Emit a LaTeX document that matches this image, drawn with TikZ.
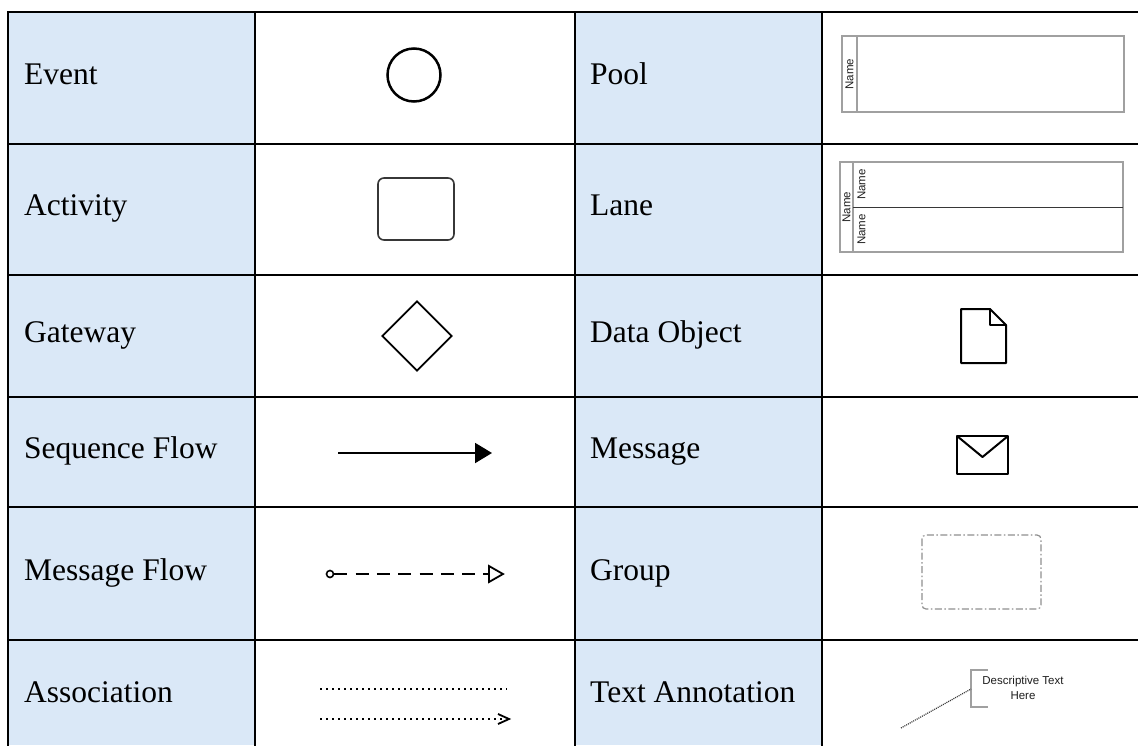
\documentclass[tikz,border=0pt]{standalone}
\usepackage{fontspec}
\setmainfont{Liberation Serif}
\newfontfamily\arialfont{Liberation Sans}
\usetikzlibrary{shapes.geometric,arrows.meta}
\definecolor{cellblue}{RGB}{218,232,247}
\definecolor{boxgray}{RGB}{160,160,160}
\definecolor{darkline}{RGB}{55,55,55}
\definecolor{txtgray}{RGB}{30,30,30}
\begin{document}
\begin{tikzpicture}[x=1pt,y=-1pt,
  gridline/.style={line width=2.2pt,line cap=rect},
  lbl/.style={anchor=base west,inner sep=0pt,font=\fontsize{31.5}{36}\selectfont},
  smalltxt/.style={font=\arialfont\fontsize{11.5}{15}\selectfont,inner sep=0pt,text=txtgray},
  bpmnline/.style={line width=2pt,line join=round},
  grayframe/.style={draw=boxgray,line width=1.3pt},
  dotline/.style={line width=1.8pt,dash pattern=on 1.8pt off 4.2pt}]
\useasboundingbox (0,0) rectangle (1138,745);
\fill[white] (0,0) rectangle (1138,745);
% shaded label columns
\fill[cellblue] (8,12) rectangle (255,745);
\fill[cellblue] (575,12) rectangle (822,745);
% grid
\foreach \yy in {12,144,275,397,507,640} \draw[gridline] (8,\yy) -- (1140,\yy);
\foreach \xx in {8,255,575,822} \draw[gridline] (\xx,12) -- (\xx,747);
% labels, left column
\node[lbl] (lEvent) at (24,84) {Event};
\node[lbl] (lActivity) at (24,215.5) {Activity};
\node[lbl] (lGateway) at (24,342.5) {Gateway};
\node[lbl] (lSeq) at (24,458.5) {Sequence Flow};
\node[lbl] (lMsgFlow) at (24,580) {Message Flow};
\node[lbl] (lAssoc) at (24,702) {Association};
% labels, right column
\node[lbl] (lPool) at (590,84) {Pool};
\node[lbl] (lLane) at (590,215.5) {Lane};
\node[lbl] (lData) at (590,342.5) {Data Object};
\node[lbl] (lMsg) at (590,458.5) {Message};
\node[lbl] (lGroup) at (590,580) {Group};
\node[lbl] (lAnnot) at (590,702) {Text Annotation};
% Event
\node[draw,circle,line width=2.5pt,minimum size=53pt,inner sep=0pt] (event) at (414,75) {};
% Activity
\node[draw=darkline,rectangle,rounded corners=6pt,line width=1.6pt,minimum width=76pt,minimum height=62pt,inner sep=0pt] (activity) at (416,209) {};
% Gateway
\node[draw,diamond,line width=1.8pt,minimum width=70pt,minimum height=70pt,inner sep=0pt] (gateway) at (417,336) {};
% Sequence flow
\coordinate (sfA) at (338,453);
\coordinate (sfB) at (492,453);
\draw[line width=2pt,-{Triangle[length=17pt,width=20pt]}] (sfA) -- (sfB);
% Message flow
\node[draw,circle,line width=1.6pt,minimum size=7pt,inner sep=0pt] (mfStart) at (330,574) {};
\coordinate (mfT) at (489,574);
\coordinate (mfTip) at (503,574);
\draw[line width=2.3pt,dash pattern=on 13pt off 8.3pt] (mfStart.east) -- (mfT);
\draw[line width=1.8pt,line join=miter] (489,566) -- (mfTip) -- (489,582) -- cycle;
% Association
\coordinate (asA1) at (320,689);
\coordinate (asB1) at (507,689);
\coordinate (asA2) at (320,719);
\coordinate (asB2) at (509,719);
\draw[dotline] (asA1) -- (asB1);
\draw[dotline] (asA2) -- (505,719);
\draw[line width=1.8pt,line join=miter] (498,714) -- (asB2) -- (498,724);
% Pool
\draw[grayframe] (842,36) rectangle (1124,112);
\draw[grayframe] (857,36) -- (857,112);
\node[smalltxt,rotate=90] (poolName) at (849.5,74) {Name};
% Lane
\draw[grayframe] (840,162) rectangle (1123,252);
\draw[grayframe] (853,162) -- (853,252);
\draw[draw=darkline,line width=1pt] (853,207) -- (1123,207);
\node[smalltxt,rotate=90] (laneOuter) at (846.5,207) {Name};
\node[smalltxt,rotate=90] (laneTop) at (861.5,184.5) {Name};
\node[smalltxt,rotate=90] (laneBot) at (861.5,229.5) {Name};
% Data object
\draw[bpmnline] (961,309) -- (990,309) -- (1006,325) -- (1006,363) -- (961,363) -- cycle;
\draw[bpmnline] (990,309) -- (990,325) -- (1006,325);
% Message
\draw[bpmnline] (957,436) rectangle (1008,474);
\draw[bpmnline] (957,436) -- (982.5,457) -- (1008,436);
% Group
\draw[draw=boxgray!90!black,line width=1.2pt,rounded corners=4pt,dash pattern=on 7pt off 2.5pt on 1.5pt off 2.5pt] (922,535) rectangle (1041,609);
% Text annotation
\coordinate (annA) at (901,728);
\coordinate (annB) at (971,689);
\draw[draw=boxgray,line width=1.2pt] (988,670) -- (971,670) -- (971,707) -- (988,707);
\node[smalltxt,align=center] (annText) at (1023,688) {Descriptive Text\\Here};
\draw[line width=1.2pt,dash pattern=on 1pt off 1pt,draw=darkline] (annA) -- (annB);
\end{tikzpicture}
\end{document}
